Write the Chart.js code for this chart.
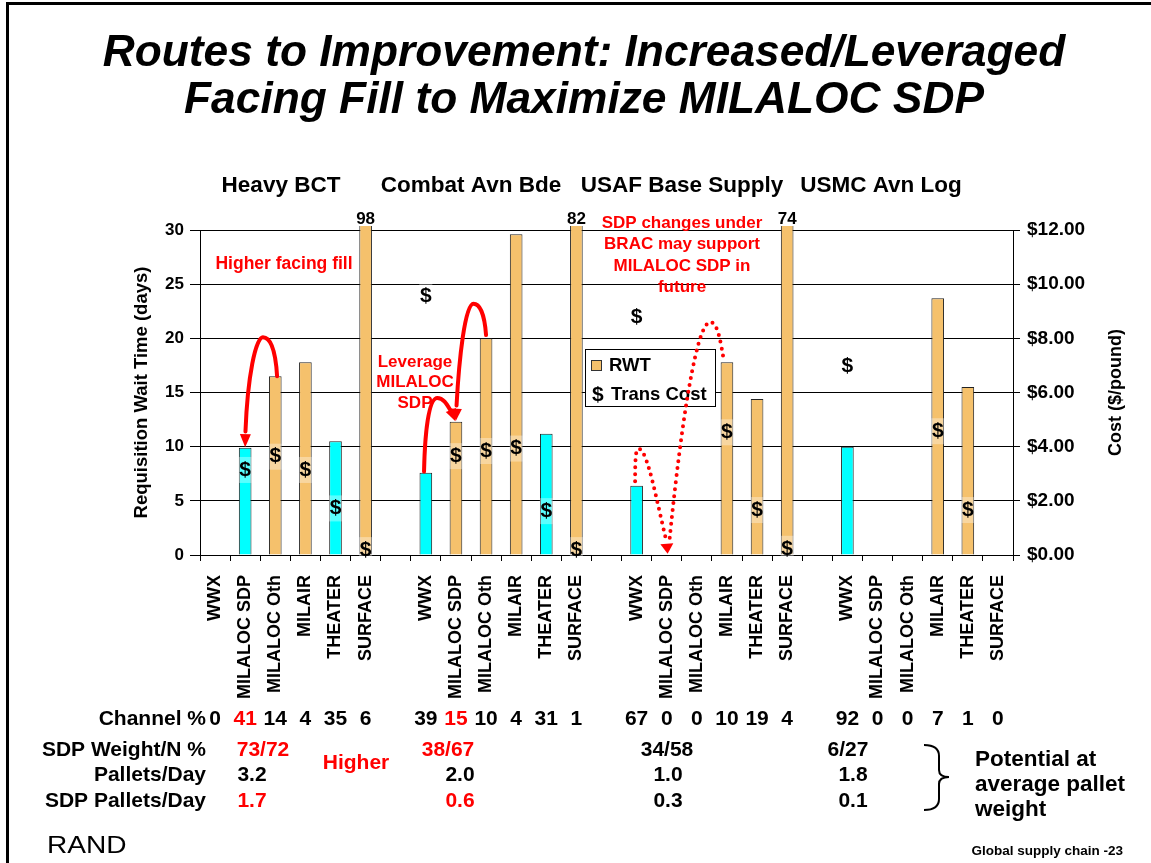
<!DOCTYPE html>
<html><head><meta charset="utf-8">
<script src="https://cdn.jsdelivr.net/npm/chart.js@4.4.0/dist/chart.umd.min.js"></script>
<style>html,body{margin:0;padding:0;background:#fff;overflow:hidden}</style>
</head><body>
<canvas id="c" width="1151" height="863"></canvas>
<script>
// ---------- DATA ----------
const categories = ['WWX','MILALOC SDP','MILALOC Oth','MILAIR','THEATER','SURFACE','',
                    'WWX','MILALOC SDP','MILALOC Oth','MILAIR','THEATER','SURFACE','',
                    'WWX','MILALOC SDP','MILALOC Oth','MILAIR','THEATER','SURFACE','',
                    'WWX','MILALOC SDP','MILALOC Oth','MILAIR','THEATER','SURFACE'];
const rwtDays = [null,9.9,16.5,17.8,10.5,98,null,
                 7.6,12.3,20.0,29.6,11.2,82,null,
                 6.4,null,null,17.8,14.4,74,null,
                 10.0,null,null,23.7,15.5,null];
const transCost = [null,3.14,3.63,3.14,1.72,0.18,null,
                   9.56,3.65,3.84,3.93,1.62,0.18,null,
                   8.79,null,null,4.53,1.66,0.23,null,
                   6.97,null,null,4.57,1.66,null];
const channelPct = [0,41,14,4,35,6,null,
                    39,15,10,4,31,1,null,
                    67,0,0,10,19,4,null,
                    92,0,0,7,1,0];
const groupNames = ['Heavy BCT','Combat Avn Bde','USAF Base Supply','USMC Avn Log'];
const sdpWeightN = ['73/72','38/67','34/58','6/27'];
const palletsPerDay = ['3.2','2.0','1.0','1.8'];
const sdpPalletsPerDay = ['1.7','0.6','0.3','0.1'];
const rwtTicks = {min:0, max:30, step:5};
const costTicks = {min:0, max:12, step:2};

// ---------- STYLE ----------
const F = 'Liberation Sans, Arial, sans-serif';
const ORANGE = '#F5C16C', CYAN = '#00FFFF', RED = '#FF0000';
const highlighted = [1,4,7,11,14,21];
const redChannel = [1,8];
const barColors = rwtDays.map((v,i)=> highlighted.includes(i) ? CYAN : ORANGE);

function txt(ctx, s, x, y, font, color, align, base){
  ctx.font = font; ctx.fillStyle = color||'#000';
  ctx.textAlign = align||'center'; ctx.textBaseline = base||'middle';
  ctx.fillText(s, x, y);
}

const decor = {
  id:'decor',
  beforeDraw(chart){
    const ctx = chart.ctx;
    ctx.save();
    ctx.fillStyle='#fff'; ctx.fillRect(0,0,chart.width,chart.height);
    ctx.fillStyle='#000';
    ctx.fillRect(6,2,chart.width-6,3);
    ctx.fillRect(6,2,3,chart.height-2);
    // title
    const t1='Routes to Improvement: Increased/Leveraged', t2='Facing Fill to Maximize MILALOC SDP';
    ctx.font = 'italic bold 40px '+F;
    const sz = 40*963/ctx.measureText(t1).width;
    txt(ctx,t1,584,66,'italic bold '+sz.toFixed(1)+'px '+F,'#000','center','alphabetic');
    txt(ctx,t2,584,113,'italic bold '+sz.toFixed(1)+'px '+F,'#000','center','alphabetic');
    // group names
    const gx=[281,471,682,881];
    groupNames.forEach((g,i)=>txt(ctx,g,gx[i],192,'bold 22.5px '+F,'#000','center','alphabetic'));
    // axis titles
    const a = chart.chartArea, cy=(a.top+a.bottom)/2;
    ctx.save(); ctx.translate(142,cy); ctx.rotate(-Math.PI/2);
    txt(ctx,'Requisition Wait Time (days)',0,0,'bold 18.5px '+F,'#000');
    ctx.restore();
    ctx.save(); ctx.translate(1116,cy); ctx.rotate(-Math.PI/2);
    txt(ctx,'Cost ($/pound)',0,0,'bold 18px '+F,'#000');
    ctx.restore();
    ctx.restore();
  },
  afterDatasetsDraw(chart){
    const ctx = chart.ctx, a = chart.chartArea;
    const xs = chart.scales.x, ys = chart.scales.y;
    const P = (c,v)=>[xs.getPixelForValue(c), ys.getPixelForValue(v)];
    ctx.save();
    // clipped bar values
    const bm = chart.getDatasetMeta(0);
    rwtDays.forEach((v,i)=>{
      if(v!=null && v>rwtTicks.max){
        txt(ctx,String(v),bm.data[i].x,a.top-6,'bold 17px '+F,'#000','center','alphabetic');
      }
    });
    // $ markers
    const dm = chart.getDatasetMeta(1);
    transCost.forEach((v,i)=>{
      if(v==null) return;
      const p = dm.data[i];
      ctx.fillStyle='rgba(255,255,255,0.35)';
      ctx.fillRect(p.x-6.5,p.y-13,13,26);
      txt(ctx,'$',p.x,p.y,'bold 21px '+F,'#000');
    });
    // legend
    ctx.fillStyle='#fff'; ctx.fillRect(585.5,349.5,130,57);
    ctx.strokeStyle='#000'; ctx.lineWidth=1; ctx.strokeRect(585.5,349.5,130,57);
    ctx.fillStyle=ORANGE; ctx.fillRect(591.5,360.5,10,10);
    ctx.strokeStyle='#333'; ctx.strokeRect(591.5,360.5,10,10);
    txt(ctx,'RWT',609,366,'bold 18.5px '+F,'#000','left');
    txt(ctx,'$',592,395,'bold 21px '+F,'#000','left');
    txt(ctx,'Trans Cost',611,395,'bold 18.5px '+F,'#000','left');

    // arrows
    function head(tip, from, w, l){
      const ang = Math.atan2(tip[1]-from[1], tip[0]-from[0]);
      ctx.beginPath();
      ctx.moveTo(tip[0],tip[1]);
      ctx.lineTo(tip[0]-l*Math.cos(ang)+w/2*Math.sin(ang), tip[1]-l*Math.sin(ang)-w/2*Math.cos(ang));
      ctx.lineTo(tip[0]-l*Math.cos(ang)-w/2*Math.sin(ang), tip[1]-l*Math.sin(ang)+w/2*Math.cos(ang));
      ctx.closePath(); ctx.fill();
    }
    function curve(pts){
      ctx.beginPath();
      ctx.moveTo(...P(...pts[0]));
      for(let k=1;k<pts.length;k+=3){
        ctx.bezierCurveTo(...P(...pts[k]),...P(...pts[k+1]),...P(...pts[k+2]));
      }
      ctx.stroke();
    }
    ctx.strokeStyle=RED; ctx.fillStyle=RED; ctx.lineWidth=4; ctx.lineCap='round';
    // Heavy BCT arrow
    curve([[2.06,16.5],[2.0,19.4],[1.78,20.1],[1.59,20.1],[1.35,20.1],[1.08,16.5],[1.01,11.4]]);
    head(P(1.0,9.95),P(1.01,11.6),11,13);
    // Combat Avn arrows
    curve([[6.94,7.7],[6.97,11.5],[7.1,14.5],[7.38,14.5],[7.6,14.5],[7.72,13.8],[7.85,13.2]]);
    head(P(7.98,12.35),P(7.8,13.6),11,12);
    curve([[9.0,20.3],[8.95,22.3],[8.78,23.2],[8.58,23.2],[8.3,23.2],[8.1,18],[8.02,13.8]]);
    head(P(8.0,12.4),P(8.02,13.9),11,12);
    // USAF dotted arrow
    ctx.lineWidth=4; ctx.setLineDash([0,7]);
    curve([[13.95,6.8],[13.95,9.2],[13.98,9.8],[14.07,9.8],[14.35,9.8],[14.65,5.2],[14.98,1.4]]);
    curve([[15.1,1.6],[15.35,8.5],[15.9,21.5],[16.45,21.5],[16.7,21.5],[16.8,19.5],[16.9,17.9]]);
    ctx.setLineDash([]);
    head(P(15.03,0.12),P(15.0,1.2),13,10);

    // red annotation text
    txt(ctx,'Higher facing fill',284,264,'bold 17.5px '+F,RED);
    ['Leverage','MILALOC','SDP'].forEach((s,i)=>txt(ctx,s,415,362+i*20.5,'bold 17px '+F,RED));
    ['SDP changes under','BRAC may support','MILALOC SDP in','future'].forEach((s,i)=>txt(ctx,s,682,223+i*21.5,'bold 17px '+F,RED));
    ctx.restore();
  },
  afterDraw(chart){
    const ctx = chart.ctx, xs = chart.scales.x;
    ctx.save();
    const tf='bold 21px '+F;
    txt(ctx,'Channel %',206,719,tf,'#000','right');
    channelPct.forEach((v,i)=>{
      if(v==null) return;
      txt(ctx,String(v),xs.getPixelForValue(i),719,tf,redChannel.includes(i)?RED:'#000');
    });
    txt(ctx,'SDP Weight/N %',206,750,tf,'#000','right');
    txt(ctx,'Pallets/Day',206,775,tf,'#000','right');
    txt(ctx,'SDP Pallets/Day',206,801,tf,'#000','right');
    const wx=[263,448,667,848], px=[252,460,668,853];
    const redG=[0,1];
    sdpWeightN.forEach((s,i)=>txt(ctx,s,wx[i],750,tf,redG.includes(i)?RED:'#000'));
    palletsPerDay.forEach((s,i)=>txt(ctx,s,px[i],775,tf,'#000'));
    sdpPalletsPerDay.forEach((s,i)=>txt(ctx,s,px[i],801,tf,redG.includes(i)?RED:'#000'));
    txt(ctx,'Higher',356,763,'bold 21px '+F,RED);
    // brace
    ctx.strokeStyle='#000'; ctx.lineWidth=2;
    ctx.beginPath();
    ctx.moveTo(924,745); ctx.quadraticCurveTo(939,745,939,756);
    ctx.lineTo(939,770); ctx.quadraticCurveTo(939,777,949,777);
    ctx.quadraticCurveTo(939,777,939,784);
    ctx.lineTo(939,799); ctx.quadraticCurveTo(939,810,924,810);
    ctx.stroke();
    ['Potential at','average pallet','weight'].forEach((s,i)=>txt(ctx,s,975,760+i*25,'bold 22.5px '+F,'#000','left'));
    ctx.save(); ctx.translate(47,846); ctx.scale(1.17,1);
    txt(ctx,'RAND',0,0,'24px '+F,'#000','left');
    ctx.restore();
    txt(ctx,'Global supply chain -23',1123,851,'bold 13.5px '+F,'#000','right');
    ctx.restore();
  }
};

new Chart(document.getElementById('c'), {
  data:{
    labels: categories,
    datasets:[
      {type:'bar', label:'RWT', data:rwtDays, yAxisID:'y', backgroundColor:barColors,
       borderColor:'#222', borderWidth:1, barPercentage:0.42, categoryPercentage:1,
       clip:{left:5,top:4,right:5,bottom:0}, order:2},
      {type:'line', label:'Trans Cost', data:transCost, yAxisID:'y1', showLine:false,
       pointRadius:0, pointHoverRadius:0, order:1}
    ]
  },
  options:{
    responsive:false, animation:false, devicePixelRatio:1,
    layout:{padding:{left:0,right:0,top:230,bottom:0}},
    plugins:{legend:{display:false}, tooltip:{enabled:false}},
    scales:{
      x:{
        offset:true,
        grid:{display:true, drawOnChartArea:false, drawTicks:true, tickLength:6, color:'#000', offset:true},
        border:{display:true,color:'#000',width:1},
        ticks:{autoSkip:false, maxRotation:90, minRotation:90, padding:14, color:'#000', font:{family:F,weight:'bold',size:18}},
        afterFit(s){ s.height = 308; }
      },
      y:{
        position:'left', min:rwtTicks.min, max:rwtTicks.max,
        ticks:{stepSize:rwtTicks.step, color:'#000', padding:6, font:{family:F,weight:'bold',size:17}},
        grid:{color:'#000', lineWidth:1, tickLength:10},
        border:{display:true,color:'#000',width:1},
        afterFit(s){ s.width = 200; }
      },
      y1:{
        position:'right', min:costTicks.min, max:costTicks.max,
        ticks:{stepSize:costTicks.step, color:'#000', padding:7, font:{family:F,weight:'bold',size:19},
               callback:v=>'$'+Number(v).toFixed(2)},
        grid:{drawOnChartArea:false, color:'#000', tickLength:7},
        border:{display:true,color:'#000',width:1},
        afterFit(s){ s.width = 138; }
      }
    }
  },
  plugins:[decor]
});
</script>
</body></html>
